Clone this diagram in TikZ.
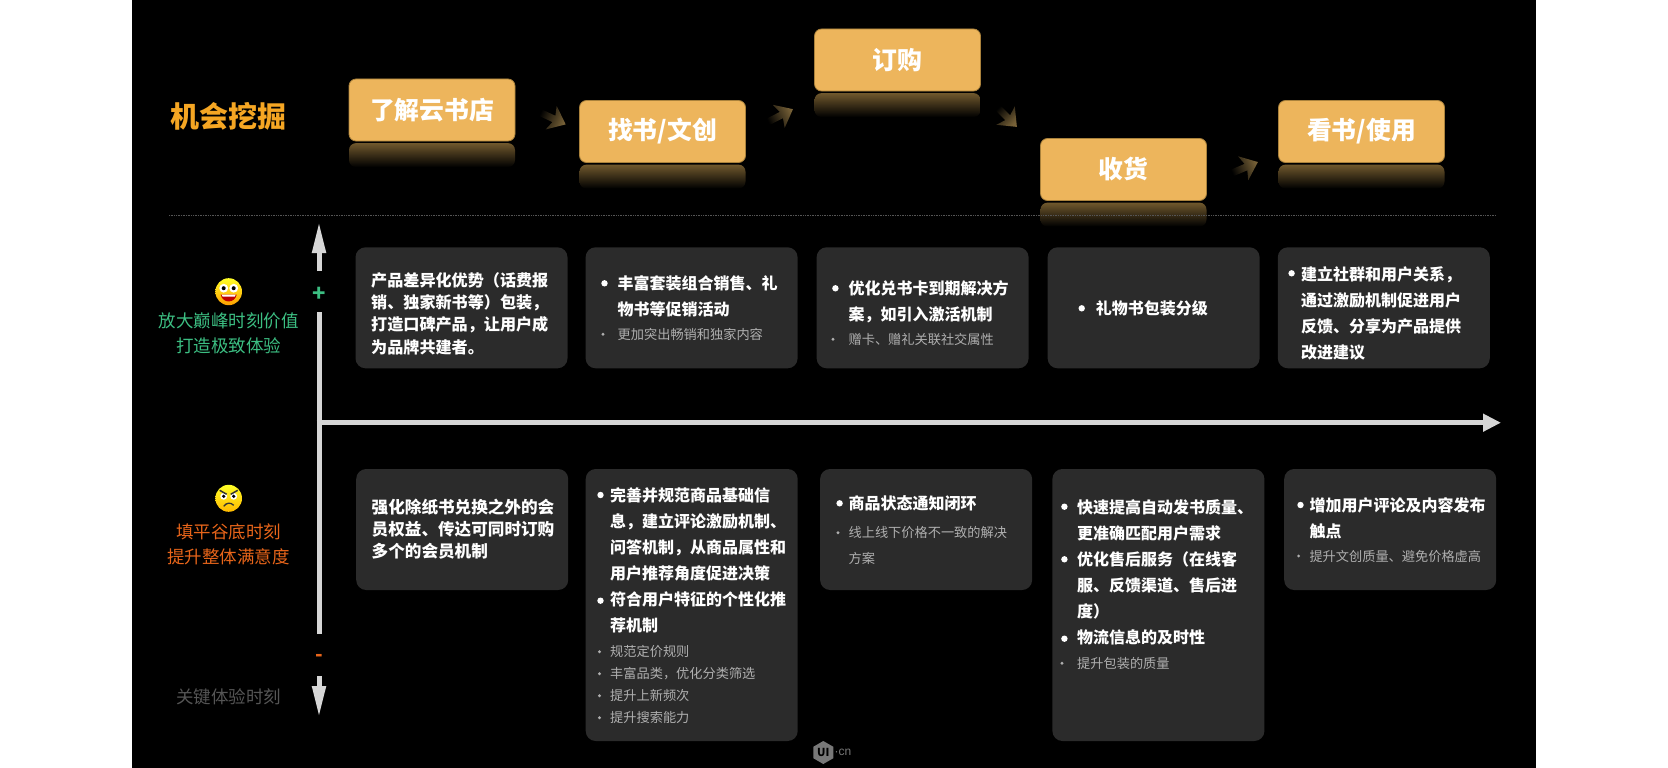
\documentclass[tikz,border=0pt]{standalone}
\usepackage{fontspec}
\setmainfont{Noto Sans CJK SC}
\newfontfamily\markfont{Liberation Sans}
\usetikzlibrary{arrows.meta,positioning,calc,shapes.geometric}
\definecolor{stagefill}{RGB}{237,181,92}
\definecolor{stageedge}{RGB}{170,130,60}
\definecolor{mirror}{RGB}{112,88,45}
\definecolor{pathtip}{RGB}{120,98,56}
\definecolor{cardfill}{RGB}{43,43,43}
\definecolor{axisgrey}{RGB}{214,214,214}
\definecolor{titleamber}{RGB}{245,166,35}
\definecolor{peakgreen}{RGB}{60,190,130}
\definecolor{valleyred}{RGB}{232,101,26}
\definecolor{momentgrey}{RGB}{85,85,85}
\definecolor{minorgrey}{RGB}{175,175,175}
\definecolor{markgrey}{RGB}{120,120,120}
\tikzset{
  stagebox/.style={draw=stageedge,fill=stagefill,rounded corners=7pt,line width=.8pt,
    minimum width=166,minimum height=62,inner sep=0pt,text=white,
    font=\bfseries\fontsize{24.8}{28}\selectfont},
  mirrorbox/.style={rounded corners=7pt,top color=mirror,bottom color=black,
    minimum width=166,minimum height=24,inner sep=0pt},
  card/.style={fill=cardfill,rounded corners=10pt,minimum width=212,minimum height=121,inner sep=0pt},
  longcard/.style={card,minimum height=272},
  headtext/.style={anchor=west,inner sep=0pt,align=left,text=white,
    font=\bfseries\fontsize{16}{26}\selectfont},
  minortext/.style={anchor=west,inner sep=0pt,align=left,text=minorgrey,
    font=\fontsize{13.2}{22}\selectfont},
  bigdot/.style={circle,fill=white,minimum size=6.4,inner sep=0pt},
  smalldot/.style={circle,fill=minorgrey,minimum size=3.2,inner sep=0pt},
  sidetext/.style={align=center,inner sep=0pt,font=\fontsize{17.5}{25}\selectfont},
  axisline/.style={draw=axisgrey,line width=5pt},
}
\begin{document}
\begin{tikzpicture}[x=1pt,y=-1pt]
\useasboundingbox (0,0) rectangle (1668,768);
\fill[white] (0,0) rectangle (1668,768);
\fill[black] (132,0) rectangle (1536,768);

\node[anchor=center,inner sep=0pt,text=titleamber,font=\bfseries\fontsize{29}{32}\selectfont] (title) at (228.5,116) {机会挖掘};

\node[stagebox] (know) at (432,110) {了解云书店};
\node[stagebox] (find) at (662.5,131.5) {找书/文创};
\node[stagebox] (order) at (897.5,60) {订购};
\node[stagebox] (receive) at (1123.5,169.5) {收货};
\node[stagebox] (read) at (1361.5,131.5) {看书/使用};
\foreach \s in {know,find,order,receive,read}
  \node[mirrorbox,below=1.5pt of \s] (\s M) {};

% faded marks between the stages
\foreach \cx/\cy/\a/\sh in {553/118.5/-25/-115,780.5/115.5/27/-63,1007/117/-45/-135,1245/167.5/23/-67}
  \shade[top color=pathtip,bottom color=black,shading angle=\sh,shift={(\cx,\cy)},rotate=\a]
    (-14,-3.5) -- (1,-3.5) -- (-2,-13) -- (14,0) -- (-2,13) -- (1,3.5) -- (-14,3.5) -- cycle;

\coordinate (ruleL) at (169,215.3);
\coordinate (ruleR) at (1496,215.3);
\draw[draw=momentgrey,line width=.7pt,densely dotted] (ruleL) -- (ruleR);

% axes
\node[inner sep=0pt,text=peakgreen,font=\bfseries\fontsize{22}{24}\selectfont] (plus) at (319,294) {+};
\node[inner sep=0pt,text=valleyred,font=\bfseries\fontsize{20}{22}\selectfont] (minus) at (319,658) {-};
\coordinate (upS) at (319,271);
\coordinate (upE) at (319,222);
\coordinate (midT) at (319,312);
\coordinate (midB) at (319,634);
\coordinate (downS) at (319,676);
\coordinate (downE) at (319,717);
\coordinate (xS) at (316.5,422.7);
\coordinate (xE) at (1501,422.7);
\draw[axisline,-{Triangle[length=31pt,width=13pt]}] (upS) -- (upE);
\draw[axisline] (midT) -- (midB);
\draw[axisline,-{Triangle[length=31pt,width=13pt]}] (downS) -- (downE);
\draw[axisline,-{Triangle[length=18pt,width=17pt]}] (xS) -- (xE);

% side labels
\node[sidetext,text=peakgreen] (peakL) at (228.7,333.2) {放大巅峰时刻价值\\打造极致体验};
\node[sidetext,text=valleyred] (valleyL) at (228.7,544.5) {填平谷底时刻\\提升整体满意度};
\node[sidetext,text=momentgrey] (momentL) at (228.7,697) {关键体验时刻};

% faces
\begin{scope}[shift={(228.7,291.7)}]
\shade[top color=yellow!85!white,bottom color=orange!75!yellow] (0,0) ellipse[x radius=13.3,y radius=13.5];
\fill[white] (-5,-3.5) circle[radius=4.4] (5,-3.5) circle[radius=4.4];
\fill[black] (-5,-3.5) circle[radius=2] (5,-3.5) circle[radius=2];
\fill[red!75!black] (-8,3) .. controls (-6,12) and (6,12) .. (8,3) -- cycle;
\fill[white] (-7,3) -- (7,3) -- (6,5) -- (-6,5) -- cycle;
\end{scope}
\begin{scope}[shift={(228.7,498.3)}]
\shade[top color=yellow!85!white,bottom color=orange!55!yellow] (0,0) ellipse[x radius=13.3,y radius=13.5];
\fill[white] (-5,-2) circle[radius=3.4] (5,-2) circle[radius=3.4];
\fill[black] (-5,-2) circle[radius=1.8] (5,-2) circle[radius=1.8];
\draw[black!80,line width=1.5pt] (-9,-8) -- (-2,-4) (9,-8) -- (2,-4);
\draw[black!80,line width=1.3pt] (-5,8) .. controls (-2,4) and (2,4) .. (5,7);
\end{scope}

% peak row
\node[card] (peakA) at (461.5,307.8) {};
\node[card] (peakB) at (691.6,307.8) {};
\node[card] (peakC) at (922.6,307.8) {};
\node[card] (peakD) at (1153.6,307.8) {};
\node[card] (peakE) at (1383.8,307.8) {};
\node[headtext,font=\bfseries\fontsize{16.1}{22.3}\selectfont] (peakAt) at (371,313.4) {产品差异化优势（话费报\\销、独家新书等）包装，\\打造口碑产品，让用户成\\为品牌共建者。};
\node[headtext] (peakBt) at (617.5,296.6) {丰富套装组合销售、礼\\物书等促销活动};
\node[minortext] (peakBm) at (617.5,334.3) {更加突出畅销和独家内容};
\node[headtext] (peakCt) at (848.4,301.6) {优化兑书卡到期解决方\\案，如引入激活机制};
\node[minortext] (peakCm) at (848.4,339.3) {赠卡、赠礼关联社交属性};
\node[headtext] (peakDt) at (1095.6,308.3) {礼物书包装分级};
\node[headtext] (peakEt) at (1301,313) {建立社群和用户关系，\\通过激励机制促进用户\\反馈、分享为产品提供\\改进建议};

% valley row
\node[card] (valleyA) at (462.2,529.5) {};
\node[longcard] (valleyB) at (691.7,605) {};
\node[card] (valleyC) at (926.1,529.5) {};
\node[longcard] (valleyD) at (1158.4,605) {};
\node[card] (valleyE) at (1390.2,529.5) {};
\node[headtext,font=\bfseries\fontsize{16.6}{22}\selectfont] (valleyAt) at (371.5,529.2) {强化除纸书兑换之外的会\\员权益、传达可同时订购\\多个的会员机制};
\node[headtext] (valleyBt) at (610,560.8) {完善并规范商品基础信\\息，建立评论激励机制、\\问答机制，从商品属性和\\用户推荐角度促进决策\\符合用户特征的个性化推\\荐机制};
\node[minortext] (valleyBm) at (610,684.7) {规范定价规则\\丰富品类，优化分类筛选\\提升上新频次\\提升搜索能力};
\node[headtext] (valleyCt) at (848.4,503.3) {商品状态通知闭环};
\node[minortext,font=\fontsize{13.2}{25.6}\selectfont] (valleyCm) at (848.4,545.5) {线上线下价格不一致的解决\\方案};
\node[headtext] (valleyDt) at (1077,572.7) {快速提高自动发书质量、\\更准确匹配用户需求\\优化售后服务（在线客\\服、反馈渠道、售后进\\度）\\物流信息的及时性};
\node[minortext] (valleyDm) at (1077,663.3) {提升包装的质量};
\node[headtext] (valleyEt) at (1309.3,518.4) {增加用户评论及内容发布\\触点};
\node[minortext] (valleyEm) at (1309.3,556) {提升文创质量、避免价格虚高};

\foreach \n/\x/\y in {a/604.5/283.3,b/835.4/288.3,c/1081.7/308.3,d/1291.6/273.3,
  e/600.5/495,f/600.5/600.7,g/839.6/503.3,h/1064.4/506.7,i/1064.4/559.3,j/1064.4/638.7,k/1300.5/505}
  \node[bigdot] (big\n) at (\x,\y) {};
\foreach \n/\x/\y in {a/603/334.3,b/833/339.3,c/599.5/651.7,d/599.5/673.7,e/599.5/695.7,f/599.5/717.7,
  g/838/532.7,h/1062/663.3,i/1298.6/556}
  \node[smalldot] (small\n) at (\x,\y) {};

\node[regular polygon,regular polygon sides=6,fill=markgrey,minimum size=23,inner sep=0pt,rotate=30] (markhex) at (823.3,752.5) {};
\node[inner sep=0pt,text=black,font=\bfseries\fontsize{11}{12}\selectfont] (markui) at (markhex) {UI};
\node[anchor=west,inner sep=0pt,text=markgrey,font=\markfont\fontsize{12}{14}\selectfont] (markcn) at (834.5,752) {·cn};
\end{tikzpicture}
\end{document}
